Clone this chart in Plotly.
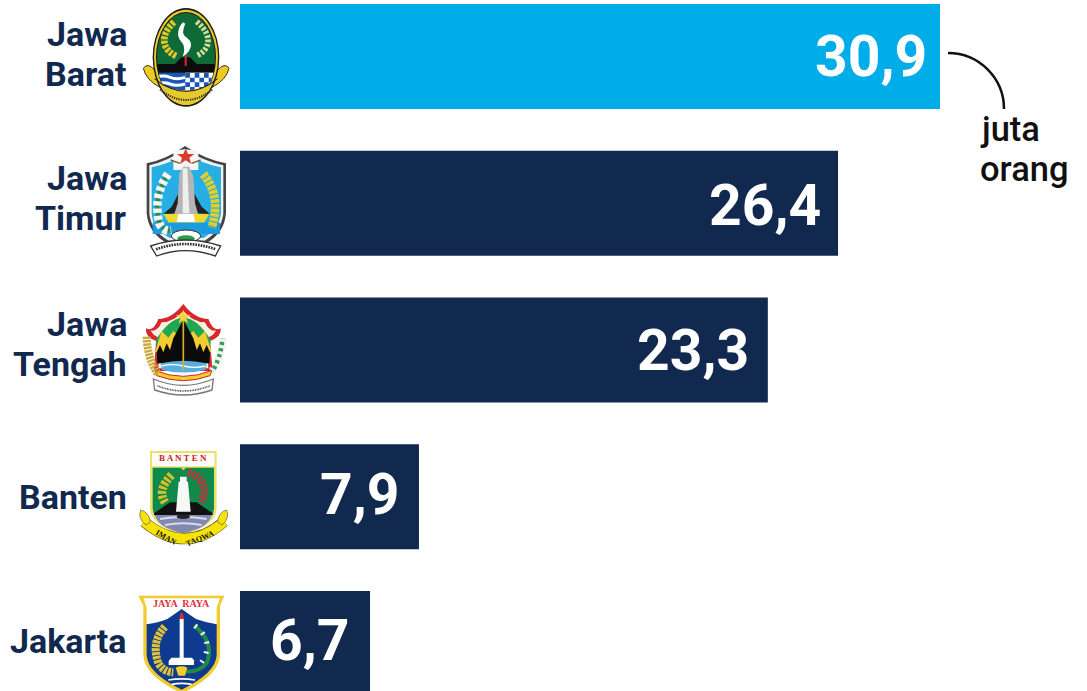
import base64
import plotly.graph_objects as go

# ---- data ----
provinces = ["Jawa<br>Barat", "Jawa<br>Timur", "Jawa<br>Tengah", "Banten", "Jakarta"]
bar_lengths = [30.9, 26.4, 23.3, 7.9, 5.74]   # the Jakarta bar is drawn shorter than its label says
value_labels = ["30,9", "26,4", "23,3", "7,9", "6,7"]
unit_lines = ["juta", "orang"]

# ---- label placement ----
label_gaps = [-11, -15, -17, -18, -19]
label_lifts = [0, -2, 0, 2, 3]
name_centres = [54, 198, 344, 497, 641]

NAVY = "#11284F"
CYAN = "#00ADE8"
bar_colors = [CYAN, NAVY, NAVY, NAVY, NAVY]

W, H = 1087, 691
LEFT = 240
PX_PER_UNIT = 700 / 30.9
SPACING = 146.75
FIRST = 56.5


def px(x):
    return (x - LEFT) / (W - LEFT)


def py(y):
    return 1 - y / H


def emblem(body, crop_x, crop_y, vb_y, vb_h):
    svg = (f'<svg xmlns="http://www.w3.org/2000/svg" width="330" height="{vb_h}" '
           f'viewBox="0 {vb_y} 330 {vb_h}">{body}</svg>')
    src = "data:image/svg+xml;base64," + base64.b64encode(svg.encode()).decode()
    return dict(source=src, xref="paper", yref="paper", x=px(crop_x), y=py(crop_y + vb_y / 3),
                sizex=110 / (W - LEFT), sizey=(vb_h / 3) / H, sizing="stretch",
                xanchor="left", yanchor="top", layer="above")


jabar = '''
<defs><clipPath id="a"><ellipse cx="168" cy="172" rx="88" ry="135"/></clipPath>
<clipPath id="b"><ellipse cx="168" cy="172" rx="96" ry="143"/></clipPath></defs>
<path d="M40 205 Q52 185 76 212 L90 262 Q48 240 40 205Z" fill="#eecb1e" stroke="#333" stroke-width="3"/>
<path d="M297 205 Q285 185 261 212 L246 262 Q289 240 297 205Z" fill="#eecb1e" stroke="#333" stroke-width="3"/>
<ellipse cx="168" cy="172" rx="100" ry="148" fill="#1a1a1a"/>
<ellipse cx="168" cy="172" rx="96" ry="143" fill="#e6c92c"/>
<ellipse cx="168" cy="172" rx="90" ry="136" fill="#1a1a1a"/>
<ellipse cx="168" cy="172" rx="87" ry="133" fill="#0e6a36"/>
<g clip-path="url(#a)">
<polygon points="70,192 135,192 155,172 180,172 200,192 260,192 260,220 70,220" fill="#0c0c0c"/>
<rect x="70" y="218" width="96" height="70" fill="#1c56b5"/>
<path d="M75 232 Q100 224 120 232 T165 232 M75 252 Q100 244 120 252 T165 252" stroke="#fff" stroke-width="9" fill="none"/>
<rect x="166" y="218" width="95" height="70" fill="#fff"/>
<path d="M166 226 H262 M166 254 H262" stroke="#1c56b5" stroke-width="14" stroke-dasharray="14 14" fill="none"/>
<path d="M180 240 H262 M180 268 H262" stroke="#1c56b5" stroke-width="14" stroke-dasharray="14 14" fill="none"/>
</g>
<g clip-path="url(#b)"><path d="M55 232 Q168 310 281 232 V330 H55Z" fill="#e6c92c"/></g>
<path d="M90 268 Q168 332 248 268" stroke="#333" stroke-width="6" stroke-dasharray="4 3" fill="none"/>
<path d="M73 236 Q168 312 263 236" stroke="#1a1a1a" stroke-width="3" fill="none"/>
<path d="M162 70 C150 100 155 110 172 120 C185 130 178 150 165 160 C170 140 165 130 155 120 C142 105 150 80 162 70Z" fill="#fff" stroke="#fff" stroke-width="8"/>
<path d="M167 165 V198" stroke="#d8262c" stroke-width="6"/>
<path d="M132 66 Q95 100 105 135 Q112 155 138 168" stroke="#e3c62a" stroke-width="20" stroke-dasharray="9 4" fill="none"/>
<path d="M200 65 Q242 100 232 135 Q225 155 203 166" stroke="#d3dd9a" stroke-width="17" stroke-dasharray="8 5" fill="none"/>
'''

jatim = '''
<path d="M50 490 Q110 478 165 438 Q225 478 288 490 L288 640 Q283 700 228 730 L112 730 Q55 700 50 640Z" fill="#444"/>
<path d="M58 496 Q112 484 165 448 Q222 484 280 496 L280 640 Q275 692 224 722 L116 722 Q62 692 58 640Z" fill="#f2f2f2"/>
<path d="M65 502 Q115 490 130 480 L205 480 Q222 490 273 502 L273 640 Q268 688 220 714 L120 714 Q68 688 65 640Z" fill="#27aee4"/>
<polygon points="130,452 165,448 205,452 205,510 130,510" fill="#f5f5f5"/>
<polygon points="167,445 174,462 193,462 178,473 184,492 167,481 150,492 156,473 141,462 160,462" fill="#d83a2c"/>
<path d="M122 480 L150 490 M212 480 L185 490" stroke="#8a5a30" stroke-width="4"/>
<polygon points="100,642 125,620 148,575 150,640" fill="#222"/>
<polygon points="240,642 215,620 190,575 188,640" fill="#222"/>
<polygon points="148,520 160,500 178,500 190,530 195,610 205,645 132,645 143,610" fill="#b5b5b5"/>
<polygon points="158,505 172,505 178,640 158,640" fill="#eeeeee"/>
<polygon points="100,642 238,642 222,668 116,668" fill="#f2d82e"/>
<polygon points="145,642 190,642 195,666 140,666" fill="#fff"/>
<rect x="68" y="668" width="202" height="34" fill="#1d9be0"/>
<path d="M114 522 Q68 590 88 670 Q100 695 124 692" stroke="#2f8a3c" stroke-width="12" fill="none"/>
<path d="M114 522 Q68 590 88 670 Q100 695 124 692" stroke="#f5f5f5" stroke-width="26" stroke-dasharray="13 9" fill="none"/>
<path d="M220 522 Q275 590 245 682" stroke="#e0cf2c" stroke-width="26" stroke-dasharray="11 3" fill="none"/>
<ellipse cx="168" cy="708" rx="44" ry="18" fill="#fff" stroke="#333" stroke-width="3"/>
<ellipse cx="168" cy="716" rx="26" ry="10" fill="#2d9b4a"/>
<path d="M62 738 Q165 702 272 738 L256 768 Q165 736 80 768Z" fill="#fff" stroke="#333" stroke-width="4"/>
<path d="M78 748 Q165 716 258 748" stroke="#333" stroke-width="8" stroke-dasharray="5 3" fill="none"/>
'''

jateng = '''
<path d="M48 100 Q70 112 85 72 Q125 72 160 27 Q195 72 235 72 Q250 112 272 100 Q276 125 240 138 L248 228 L72 228 L78 138 Q44 125 48 100Z" fill="#d9262b"/>
<path d="M62 106 Q82 112 95 82 Q130 82 160 48 Q190 82 225 82 Q238 112 258 106 Q250 125 230 128 L235 220 L85 220 L90 128 Q70 125 62 106Z" fill="#f6f2e0"/>
<path d="M78 135 Q118 68 160 68 Q202 68 242 135 L238 205 L82 205Z" fill="#22a650"/>
<polygon points="75,172 95,108 115,128 130,108 150,125 150,175" fill="#f4cc2f"/>
<polygon points="245,172 225,108 205,128 190,108 170,125 170,175" fill="#f4cc2f"/>
<polygon points="80,172 90,150 100,172 110,145 120,165 130,130 150,92 160,75 170,92 190,130 200,165 210,145 220,172 230,150 240,172 238,205 82,205" fill="#0b0b0b"/>
<path d="M92 205 Q160 190 230 205 L226 225 Q160 240 96 225Z" fill="#58aee0"/>
<path d="M95 213 Q125 205 160 213 T226 213" stroke="#fff" stroke-width="4" fill="none"/>
<path d="M160 72 V226" stroke="#d6b032" stroke-width="5"/>
<polygon points="160,45 166,60 182,60 169,70 174,85 160,76 146,85 151,70 138,60 154,60" fill="#f4d63a"/>
<path d="M74 226 Q160 262 246 226 L240 242 Q160 272 80 242Z" fill="#f4cc2f" stroke="#c8262b" stroke-width="3"/>
<path d="M70 252 Q160 290 250 252 L246 285 Q160 315 74 285Z" fill="#fff" stroke="#777" stroke-width="4"/>
<path d="M82 272 Q160 304 240 272" stroke="#555" stroke-width="5" stroke-dasharray="3 2" fill="none"/>
<path d="M50 125 Q52 190 84 238" stroke="#caa93e" stroke-width="24" stroke-dasharray="7 3" fill="none"/>
<path d="M278 130 Q272 190 248 228" stroke="#3a9a5a" stroke-width="14" fill="none"/>
<path d="M278 130 Q272 190 248 228" stroke="#eef4ee" stroke-width="26" stroke-dasharray="10 9" fill="none"/>
'''

banten = '''
<path d="M60 468 H260 V640 Q260 690 160 722 Q60 690 60 640Z" fill="#ecdf6a"/>
<rect x="66" y="474" width="188" height="40" fill="#fdfdf8"/>
<path d="M68 518 H252 V640 Q250 685 160 714 Q70 685 68 640Z" fill="#0f8a4a"/>
<path d="M125 540 Q80 585 105 622" stroke="#d5c02c" stroke-width="26" stroke-dasharray="9 5" fill="none"/>
<path d="M175 532 Q240 555 215 622" stroke="#c8303a" stroke-width="24" stroke-dasharray="7 5" fill="none"/>
<polygon points="72,655 120,622 200,622 248,655 248,660 72,660" fill="#111"/>
<polygon points="146,560 174,560 182,650 138,650" fill="#f7f7f7"/>
<polygon points="150,545 170,545 170,562 150,562" fill="#f7f7f7"/>
<circle cx="160" cy="520" r="5" fill="#e7d63a"/>
<path d="M75 660 H245 Q235 700 160 714 Q85 700 75 660Z" fill="#8088b8"/>
<path d="M90 672 Q160 660 230 672 M105 690 Q160 680 215 690" stroke="#ddd" stroke-width="6" fill="none"/>
<ellipse cx="160" cy="665" rx="20" ry="7" fill="#222"/>
<path d="M42 680 Q165 782 282 680" stroke="#444" stroke-width="33" fill="none"/>
<path d="M42 680 Q165 782 282 680" stroke="#f7e300" stroke-width="30" fill="none"/>
<path d="M48 690 Q22 670 32 645 Q55 650 62 680Z M276 690 Q300 670 290 645 Q268 650 262 680Z" fill="#f7e300" stroke="#555" stroke-width="2"/>
'''

jakarta = '''
<path d="M25 32 H283 L270 62 V210 Q268 272 155 325 Q42 272 40 210 V62Z" fill="#f3cb2b"/>
<path d="M40 40 H270 L260 68 L260 118 L50 118 L50 68Z" fill="#fff"/>
<path d="M50 118 Q90 112 112 102 Q130 90 155 72 Q180 90 198 102 Q225 112 260 118 V210 Q258 264 155 314 Q52 264 50 210Z" fill="#0e3b8f"/>
<rect x="149" y="102" width="12" height="118" fill="#fff"/>
<polygon points="148,102 152,84 158,84 162,102" fill="#e02a30"/>
<polygon points="116,228 194,228 186,218 124,218" fill="#fff"/>
<rect x="116" y="228" width="76" height="12" fill="#fff"/>
<path d="M105 125 Q62 170 85 235 Q100 260 130 262" stroke="#e0c23a" stroke-width="24" stroke-dasharray="9 3" fill="none"/>
<path d="M192 122 Q255 170 230 235 Q205 265 160 258" stroke="#238a45" stroke-width="12" fill="none"/>
<path d="M195 122 Q262 175 205 245" stroke="#f2f2f2" stroke-width="15" stroke-dasharray="6 24" fill="none"/>
<path d="M137 248 Q155 240 172 248 L165 272 H145Z" fill="#f3cb2b"/>
<path d="M115 285 Q155 278 195 285 M125 298 Q155 292 185 298" stroke="#fff" stroke-width="5" fill="none"/>
'''

images = [
    emblem(jabar, 130, 0, 0, 330),
    emblem(jatim, 130, 0, 430, 350),
    emblem(jateng, 130, 295, 0, 330),
    emblem(banten, 130, 295, 440, 340),
    emblem(jakarta, 130, 585, 0, 318),
]

y_pos = list(range(len(provinces)))

fig = go.Figure(go.Bar(
    x=bar_lengths, y=y_pos, orientation="h",
    marker=dict(color=bar_colors, line=dict(width=0)),
    width=105 / SPACING, hoverinfo="skip",
))

annotations = []
for i, (v, t, g, lift) in enumerate(zip(bar_lengths, value_labels, label_gaps, label_lifts)):
    annotations.append(dict(x=v, y=i, xref="x", yref="y", text=t, showarrow=False,
                            xanchor="right", xshift=g, yshift=lift,
                            font=dict(family="Roboto", size=57, color="white", weight=700)))

# Province names: 40 px between the lines of a two-line name.
for name, centre in zip(provinces, name_centres):
    lines = name.split("<br>")
    for j, line in enumerate(lines):
        annotations.append(dict(x=px(129), y=py(centre + 40 * (j - (len(lines) - 1) / 2)),
                                xref="paper", yref="paper", text=line, showarrow=False,
                                xanchor="right", yanchor="middle",
                                font=dict(family="Roboto", size=34, color=NAVY, weight=700)))

for j, line in enumerate(unit_lines):
    annotations.append(dict(x=px(978), y=py(129 + 40 * j), xref="paper", yref="paper", text=line,
                            showarrow=False, xanchor="left", yanchor="middle",
                            font=dict(family="Roboto", size=34.5, color="#111111", weight=500)))

for text, x, y, size, color, angle in [
    ("B A N T E N", 183, 458, 9, "#d0202a", 0),
    ("JAYA  RAYA", 181, 603, 10, "#e0303a", 0),
    ("IMAN", 166, 537, 8, "#111111", 30),
    ("TAQWA", 200, 538, 8, "#111111", -22),
]:
    annotations.append(dict(x=px(x), y=py(y), xref="paper", yref="paper", text=text,
                            showarrow=False, textangle=angle, xanchor="center", yanchor="middle",
                            font=dict(family="Liberation Serif", size=size, color=color, weight=700)))

x0, y0, x1, y1 = px(948), py(53), px(1004), py(109)
k = 0.5523
arc = (f"M {x0} {y0} C {x0 + k * (x1 - x0)} {y0}, {x1} {y1 + k * (y0 - y1)}, {x1} {y1}")

fig.update_layout(
    width=W, height=H,
    margin=dict(l=LEFT, r=0, t=0, b=0, pad=0),
    paper_bgcolor="white", plot_bgcolor="white",
    showlegend=False,
    images=images,
    annotations=annotations,
    shapes=[dict(type="path", path=arc, xref="paper", yref="paper",
                 line=dict(color="#111111", width=2.5))],
    xaxis=dict(range=[0, (W - LEFT) / PX_PER_UNIT], visible=False, fixedrange=True),
    yaxis=dict(range=[(H - FIRST) / SPACING, -FIRST / SPACING], visible=False, fixedrange=True),
)

fig.write_html("out.html", config=dict(displayModeBar=False),
               post_script="document.body.style.margin='0';document.body.style.overflow='hidden';")
